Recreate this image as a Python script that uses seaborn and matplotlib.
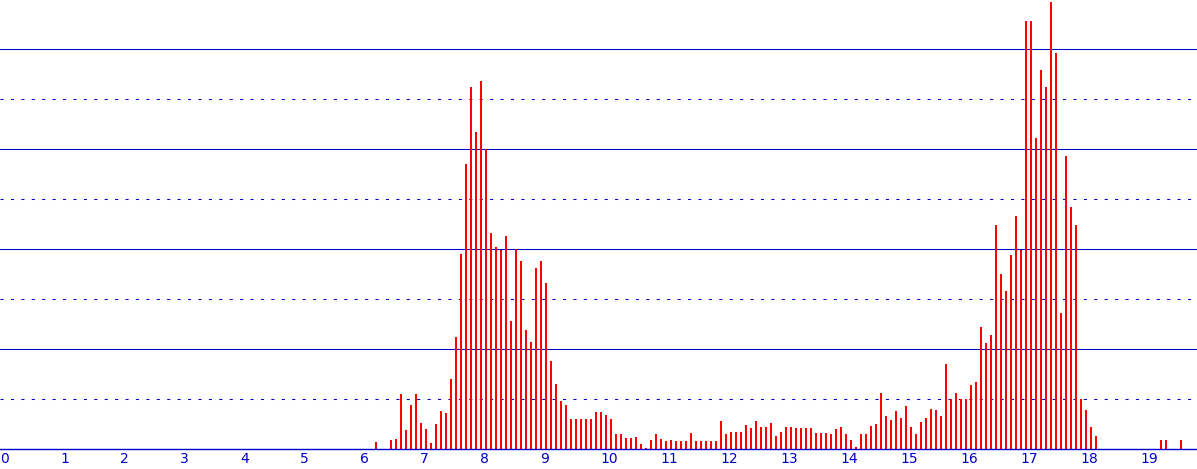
import numpy as np
import pandas as pd
import seaborn as sns
import matplotlib.pyplot as plt

# Datos: alturas por intervalo de 5 minutos
start_hour = 6.25  # primer intervalo 06:15
step = 1 / 12      # 5 minutos
day_counts = [
    7, 0, 0, 9, 10, 55, 19, 44, 55,                 # 06:15 - 06:55
    26, 20, 6, 25, 38, 36, 70, 112, 195, 285, 362, 317,   # 07
    368, 300, 216, 202, 199, 213, 128, 200, 188, 119, 107, 181,  # 08
    188, 166, 88, 65, 48, 44, 30, 30, 30, 30, 30, 37,     # 09
    37, 34, 30, 15, 15, 11, 11, 12, 5, 1, 9, 15,          # 10
    10, 8, 9, 8, 8, 8, 16, 8, 8, 8, 8, 8,                 # 11
    28, 15, 17, 17, 17, 24, 21, 28, 22, 22, 26, 13,       # 12
    17, 22, 22, 21, 21, 21, 21, 16, 16, 16, 15, 20,       # 13
    22, 15, 9, 2, 15, 15, 23, 25, 56, 33, 29, 38,         # 14
    31, 43, 22, 15, 27, 31, 40, 39, 33, 85, 50, 56,       # 15
    50, 50, 64, 67, 122, 106, 114, 224, 175, 158, 194, 233,  # 16
    199, 428, 428, 311, 379, 362, 447, 396, 136, 293, 242, 224,  # 17
    50, 39, 22, 13,                                   # 18:00 - 18:15
]
late_times = ["19:20", "19:25", "19:40"]
late_counts = [9, 9, 9]

hour_ticks = list(range(0, 20))

hours = [start_hour + i * step for i in range(len(day_counts))]
hours += [int(t[:2]) + int(t[3:]) / 60 for t in late_times]
df = pd.DataFrame({"hora": hours, "valor": day_counts + late_counts})

blue = "#0000cc"
fig = plt.figure(figsize=(11.97, 4.69), dpi=100)
ax = fig.add_axes([0, 20 / 469, 1, 449 / 469])

sns.barplot(data=df, x="hora", y="valor", native_scale=True, width=0.4,
            color="#ff0000", saturation=1, linewidth=0, errorbar=None, ax=ax)

# barras de 2 px (1 px = 1/60 h) que empiezan en el inicio del intervalo
bar_w = 2 / 60
for p in ax.patches:
    c = p.get_x() + p.get_width() / 2
    p.set_width(bar_w)
    p.set_x(c)
    p.set_snap(False)

ax.set_xlim(0, 1197 / 60)
ax.set_ylim(0, 449)

# rejilla: continua cada 100, punteada cada 50
ax.set_yticks([100, 200, 300, 400])
ax.set_yticks([50, 150, 250, 350], minor=True)
ax.grid(axis="y", which="major", color=blue, linewidth=0.75, linestyle="-")
ax.grid(axis="y", which="minor", color=blue, linewidth=0.75, linestyle=(0, (3, 7)))
ax.grid(axis="x", visible=False)
ax.set_axisbelow(True)
ax.tick_params(axis="y", which="both", length=0, labelleft=False)

ax.set_xticks(hour_ticks)
ax.set_xticklabels([str(h) for h in hour_ticks], ha="left", color=blue, fontsize=10,
                   family="DejaVu Sans")
ax.tick_params(axis="x", length=0, pad=2)

for s in ["top", "left", "right"]:
    ax.spines[s].set_visible(False)
ax.spines["bottom"].set_color(blue)
ax.spines["bottom"].set_linewidth(1.0)
ax.set_xlabel("")
ax.set_ylabel("")

plt.savefig("out.png", dpi=100)
